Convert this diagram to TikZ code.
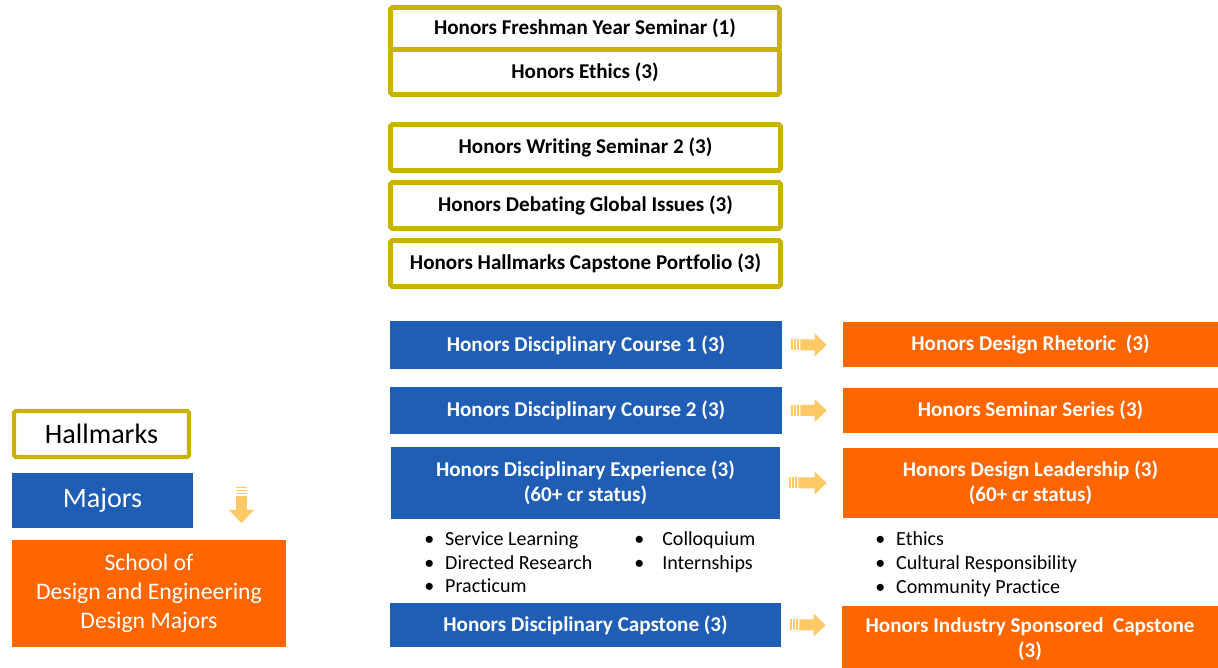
\documentclass[tikz,border=0pt]{standalone}
\usepackage{fontspec}
\setmainfont{Carlito}[Ligatures=NoCommon]
\usetikzlibrary{calc}
\definecolor{hallgold}{HTML}{C8B400}
\definecolor{majblue}{HTML}{1F5EB4}
\definecolor{sdorange}{HTML}{FF6600}
\definecolor{arrowgold}{HTML}{FFC966}
\def\hArrow(#1)(#2){%
	\path ($(#1.east)+(9,0)$) coordinate (at) ($(#2.west)+(-16,0)$) coordinate (ah);
	\foreach \s in {0,3,6} \fill[arrowgold] ($(at)+(\s,-5.5)$) rectangle ($(at)+(\s+1.5,5.5)$);
	\fill[arrowgold] ($(at)+(9,-5.5)$) -- ($(ah |- at)+(-12,-5.5)$) -- ($(ah |- at)+(-12,-11.5)$) -- (ah |- at)
		-- ($(ah |- at)+(-12,11.5)$) -- ($(ah |- at)+(-12,5.5)$) -- ($(at)+(9,5.5)$) -- cycle;}
\tikzset{
	hallbox/.style={draw=hallgold, line width=2.8pt, fill=white, rounded corners=1pt, text=black, inner sep=0pt,
		font=\fontsize{12}{14}\selectfont\bfseries, minimum width=7.8cm, minimum height=0.92cm},
	majbox/.style={fill=majblue, text=white, inner sep=0pt, align=center,
		font=\fontsize{12}{14}\selectfont\bfseries},
	sdbox/.style={fill=sdorange, text=white, inner sep=0pt, align=center,
		font=\fontsize{12}{14}\selectfont\bfseries},
	listtxt/.style={inner sep=0pt, align=left, anchor=north west, font=\fontsize{11.4}{13.6}\selectfont}
}
\newcommand{\bul}{\makebox[11.9pt][l]{\textbullet}}
\begin{document}
\begin{tikzpicture}[x=0.02cm, y=-0.02cm]
		%%%%% START %%%%%
		\useasboundingbox (0, 0) rectangle (1218, 668);
		
		% hallmarks column
		\node[hallbox, minimum width=7.78cm, minimum height=0.84cm] (fresh) at (585, 28.5) {Honors Freshman Year Seminar (1)};
		\node[hallbox, minimum width=7.78cm, minimum height=0.9cm] (ethics) at (585, 72) {Honors Ethics (3)};
		
		\node[hallbox] (writing) at (585.5, 147.5) {Honors Writing Seminar 2 (3)};
		\node[hallbox] (debating) at (585.5, 205.5) {Honors Debating Global Issues (3)};
		\node[hallbox] (portfolio) at (585.5, 263.5) {Honors Hallmarks Capstone Portfolio (3)};
		
		% majors column
		\node[majbox, minimum width=7.84cm, minimum height=0.96cm] (course1) at (586, 345) {Honors Disciplinary Course 1 (3)};
		\node[majbox, minimum width=7.84cm, minimum height=0.94cm] (course2) at (586, 410.5) {Honors Disciplinary Course 2 (3)};
		\node[majbox, minimum width=7.78cm, minimum height=1.44cm] (experience) at (585.5, 483) {Honors Disciplinary Experience (3)\\(60+ cr status)};
		\node[majbox, minimum width=7.82cm, minimum height=0.88cm] (capstone) at (585.5, 625) {Honors Disciplinary Capstone (3)};
		
		\node[listtxt] (expListA) at (424, 531) {\bul Service Learning\\ \bul Directed Research\\ \bul Practicum};
		\node[listtxt] (expListB) at (634, 531) {\bul\hspace{4pt}Colloquium\\ \bul\hspace{4pt}Internships};
		
		% design column
		\node[sdbox, minimum width=7.5cm, minimum height=0.9cm] (rhetoric) at (1030.5, 344.5) {Honors Design Rhetoric~ (3)};
		\node[sdbox, minimum width=7.5cm, minimum height=0.9cm] (series) at (1030.5, 410.5) {Honors Seminar Series (3)};
		\node[sdbox, minimum width=7.5cm, minimum height=1.4cm] (leadership) at (1030.5, 483) {Honors Design Leadership (3)\\(60+ cr status)};
		\node[sdbox, minimum width=7.52cm, minimum height=1.32cm] (industry) at (1030, 639) {Honors Industry Sponsored~ Capstone\\(3)};
		
		\node[listtxt] (leadList) at (875, 531) {\bul Ethics\\ \bul Cultural Responsibility\\ \bul Community Practice};
		
		\hArrow(course1)(rhetoric)
		\hArrow(course2)(series)
		\hArrow(experience)(leadership)
		\hArrow(capstone)(industry)
		
		% legend
		\node[draw=hallgold, line width=2.3pt, fill=white, rounded corners=1pt, inner sep=0pt,
			minimum width=3.5cm, minimum height=0.92cm, font=\fontsize{16}{19}\selectfont] (keyHall) at (101.5, 434) {Hallmarks\hspace{6pt}};
		\node[fill=majblue, text=white, inner sep=0pt, minimum width=3.62cm, minimum height=1.1cm,
			font=\fontsize{16}{19}\selectfont] (keyMaj) at (102.5, 500.5) {Majors};
		\node[fill=sdorange, text=white, inner sep=0pt, align=center, minimum width=5.48cm, minimum height=2.14cm,
			font=\fontsize{13.5}{16.4}\selectfont] (keySchool) at (149, 593.5) {School of\\Design and Engineering\\Design Majors};
		
		\foreach \s in {0,3,6} \fill[arrowgold] (236, 487+\s) rectangle (247, 488.5+\s);
		\fill[arrowgold] (236, 496) -- (236, 510) -- (229, 510) -- (241.5, 523) -- (254, 510) -- (247, 510) -- (247, 496) -- cycle;
		%%%%% END %%%%%
\end{tikzpicture}
\end{document}
